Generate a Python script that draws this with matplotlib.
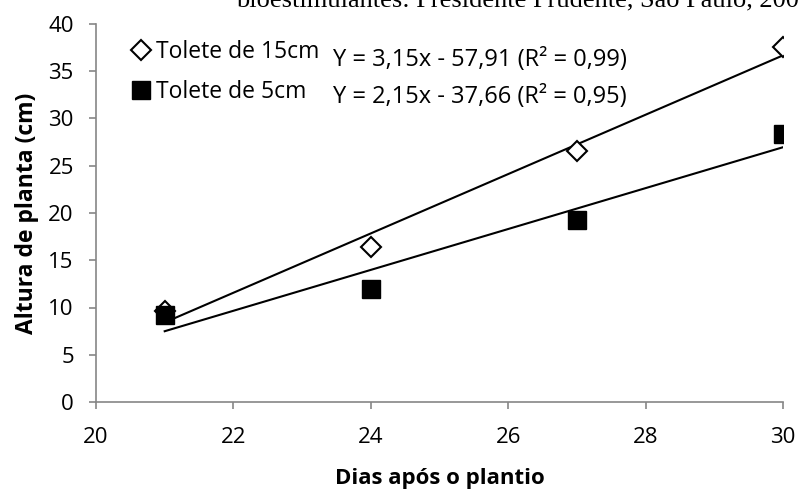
import numpy as np
import matplotlib.pyplot as plt

dias = [21, 24, 27, 30]
tolete_15 = [9.6, 16.4, 26.6, 37.6]
tolete_5 = [9.2, 12.0, 19.3, 28.4]
eq_15 = "Y = 3,15x - 57,91 (R² = 0,99)"
eq_5 = "Y = 2,15x - 37,66 (R² = 0,95)"
titulo = "bioestimulantes: Presidente Prudente, São Paulo, 2008"

plt.rcParams['font.family'] = ['Open Sans', 'DejaVu Sans']

fig = plt.figure(figsize=(7.99, 4.92), dpi=100)
ax = fig.add_axes([96/799, 1 - 402/492, (783-96)/799, (402-24)/492])

# linhas de tendencia (ajuste linear)
xs = np.array([21, 30])
for y in (tolete_15, tolete_5):
    a, b = np.polyfit(dias, y, 1)
    ax.plot(xs, a*xs + b, color='black', lw=1.5, zorder=2)

ax.plot(dias, tolete_15, 'D', ms=10, mfc='white', mec='black', mew=1.5,
        ls='none', label='Tolete de 15cm', zorder=3)
ax.plot(dias, tolete_5, 's', ms=13, color='black', ls='none',
        label='Tolete de 5cm', zorder=3)

ax.set_xlim(20, 30)
ax.set_ylim(0, 40)
ax.set_xticks(range(20, 31, 2))
ax.set_yticks(range(0, 41, 5))
ax.tick_params(labelsize=16, direction='out', length=5, color='#868686', width=1.2)
ax.tick_params(axis='y', pad=11)
ax.tick_params(axis='x', pad=13)
for s in ('top', 'right'):
    ax.spines[s].set_visible(False)
for s in ('left', 'bottom'):
    ax.spines[s].set_color('#868686')
    ax.spines[s].set_linewidth(1.2)

ax.set_xlabel('Dias após o plantio', fontsize=16, fontweight='bold', va='center')
ax.set_ylabel('Altura de planta (cm)', fontsize=16.5, fontweight='bold', va='center')
ax.xaxis.set_label_coords(0.5, -0.203)
ax.yaxis.set_label_coords(-0.1, 0.5)

leg = ax.legend(loc='upper left', bbox_to_anchor=(0.049, 0.958), frameon=False,
                fontsize=16.5, handletextpad=0.15, labelspacing=0.72,
                handlelength=1.0, borderaxespad=0.0, borderpad=0.0)

ax.text(0.345, 0.905, eq_15, transform=ax.transAxes, fontsize=17, va='center')
ax.text(0.345, 0.806, eq_5, transform=ax.transAxes, fontsize=17, va='center')

fig.text(236/799, 1 - 6/492, titulo, fontsize=19,
         family=['Liberation Serif', 'DejaVu Serif'], va='baseline')

fig.savefig('out.png', dpi=100)
